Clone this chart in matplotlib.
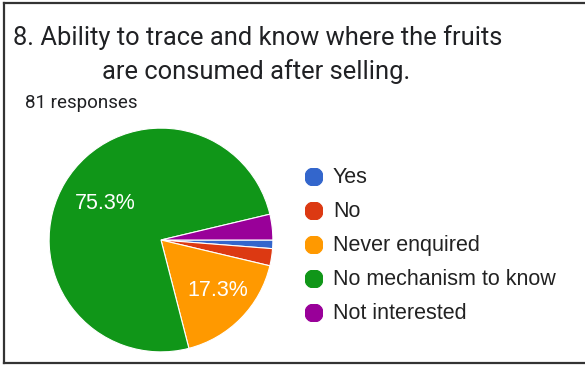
import matplotlib
matplotlib.use("Agg")
import matplotlib.pyplot as plt
import matplotlib.transforms as mtransforms
from matplotlib.lines import Line2D
from matplotlib.patches import Circle

# Survey answers (81 responses)
labels = ["Yes", "No", "Never enquired", "No mechanism to know", "Not interested"]
counts = [1, 2, 14, 61, 3]
colors = ["#3366cc", "#dc3912", "#ff9900", "#109618", "#990099"]
title_lines = ["8. Ability to trace and know where the fruits", "are consumed after selling."]
subtitle = "81 responses"

W, H = 585, 365
fig = plt.figure(figsize=(W / 100, H / 100), dpi=100)
fig.patch.set_facecolor("white")

TITLE_FONT = "Roboto"
CHART_FONT = "Liberation Sans"
TEXT_COLOR = "#202124"


def fx(px):
    return px / W


def fy(py):
    return 1 - py / H


# frame on the left, top and bottom edges
for xs, ys in [((4, 4), (3, 363)), ((4, 585), (3, 3)), ((4, 585), (363, 363))]:
    fig.add_artist(Line2D([fx(x) for x in xs], [fy(y) for y in ys],
                          transform=fig.transFigure, color="#333333", linewidth=1.6))

# title and response count
fig.text(fx(258), fy(45), title_lines[0], ha="center", va="baseline",
         fontsize=18.4, color=TEXT_COLOR, family=TITLE_FONT)
fig.text(fx(256), fy(79), title_lines[1], ha="center", va="baseline",
         fontsize=18.4, color=TEXT_COLOR, family=TITLE_FONT)
fig.text(fx(25), fy(108), subtitle, ha="left", va="baseline",
         fontsize=13.5, color=TEXT_COLOR, family=TITLE_FONT)

# pie
cx, cy, r = 161, 240, 113
ax = fig.add_axes([fx(cx - r), fy(cy + r), 2 * r / W, 2 * r / H])


def pct_label(p):
    return f"{p:.1f}%" if p >= 5 else ""


wedges, texts, autotexts = ax.pie(
    counts, colors=colors, startangle=0, counterclock=False,
    autopct=pct_label, pctdistance=0.64,
    wedgeprops=dict(edgecolor="white", linewidth=0.8),
    textprops=dict(color="white", fontsize=15.5, family=CHART_FONT),
)
# nudge the percentage labels slightly to the right
nudge = mtransforms.ScaledTranslation(6 / 100, 0, fig.dpi_scale_trans)
for t in autotexts:
    t.set_transform(t.get_transform() + nudge)
ax.set_xlim(-1.01, 1.01)
ax.set_ylim(-1.01, 1.01)
ax.set_aspect("equal")
ax.axis("off")

# legend
lx, ly0, dy = 314, 177, 34
for i, (lab, col) in enumerate(zip(labels, colors)):
    y = ly0 + i * dy
    fig.text(fx(333), fy(y + 6), lab, ha="left", va="baseline",
             fontsize=15.5, color="#222222", family=CHART_FONT)
    ax_leg = fig.add_axes([fx(lx - 9), fy(y + 9), 18 / W, 18 / H])
    ax_leg.add_patch(Circle((0.5, 0.5), 0.5, color=col))
    ax_leg.set_xlim(0, 1)
    ax_leg.set_ylim(0, 1)
    ax_leg.axis("off")

fig.savefig("out.png", dpi=100)
